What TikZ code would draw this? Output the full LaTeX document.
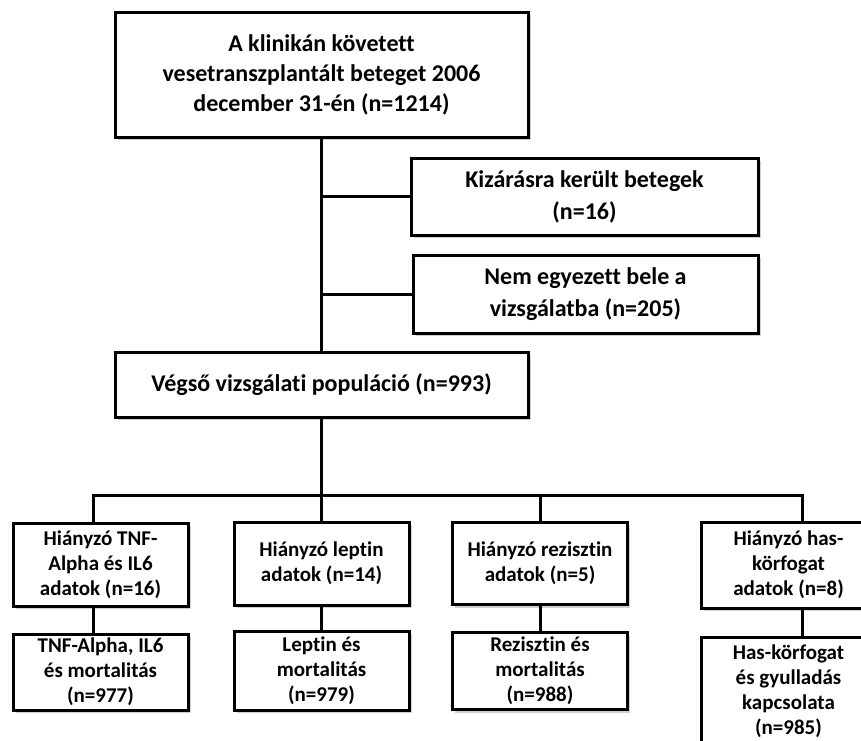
\documentclass[tikz,border=0pt]{standalone}
\usepackage{fontspec}
\setmainfont{Carlito}[Ligatures=NoCommon]
\usetikzlibrary{shadows}

\begin{document}
\begin{tikzpicture}[x=1pt, y=-1pt, node distance=100pt,
  box/.style={draw=black, line width=3pt, fill=white, inner sep=0pt, align=center,
    drop shadow={shadow xshift=2.5pt, shadow yshift=-3pt, opacity=0.3, fill=black!60}},
  big box/.style={box, font=\bfseries\fontsize{24}{30}\selectfont},
  small box/.style={box, minimum width=175pt, font=\bfseries\fontsize{21}{25}\selectfont},
  link/.style={line width=3pt}]
	\useasboundingbox (0,0) rectangle (861,740);
	\clip (0,0) rectangle (861,740);

	\node[big box, minimum width=413pt, minimum height=125pt] (start) at (321.5,74.5) {A klinikán követett\\vesetranszplantált beteget 2006\\december 31-én (n=1214)};
	\node[big box, minimum width=347pt, minimum height=77pt, font=\bfseries\fontsize{24}{32}\selectfont] (excl) [right of=start, node distance=263pt, yshift=-122pt] {Kizárásra került betegek\\(n=16)};
	\node[big box, minimum width=345pt, minimum height=78pt, font=\bfseries\fontsize{24}{32}\selectfont] (refused) [below of=excl, node distance=97.5pt, xshift=1pt] {Nem egyezett bele a\\vizsgálatba (n=205)};
	\node[big box, minimum width=413pt, minimum height=65pt] (final) [below of=start, node distance=310pt] {Végső vizsgálati populáció (n=993)};

	\node[small box, minimum height=83pt] (misslep) [below of=final, node distance=179pt] {Hiányzó leptin\\adatok (n=14)};
	\node[small box, minimum height=83pt] (misstnf) [left of=misslep, node distance=221pt, yshift=-1pt] {Hiányzó TNF-\\Alpha és IL6\\adatok (n=16)};
	\node[small box, minimum height=82pt] (missrez) [right of=misslep, node distance=218.5pt] {Hiányzó rezisztin\\adatok (n=5)};
	\node[small box, minimum height=86pt] (misswc) [right of=missrez, node distance=248.5pt, yshift=-1.5pt] {Hiányzó has-\\körfogat\\adatok (n=8)};

	\node[small box, minimum height=76pt] (restnf) [below of=misstnf, node distance=107.5pt] {TNF-Alpha, IL6\\és mortalitás\\(n=977)};
	\node[small box, minimum height=79pt] (reslep) [below of=misslep, node distance=107pt] {Leptin és\\mortalitás\\(n=979)};
	\node[small box, minimum height=77pt] (resrez) [below of=missrez, node distance=107.5pt] {Rezisztin és\\mortalitás\\(n=988)};
	\node[small box, minimum height=108pt] (reswc) [below of=misswc, node distance=126pt] {Has-körfogat\\és gyulladás\\kapcsolata\\(n=985)};

	\coordinate (bustnf) at (93,495);
	\coordinate (buslep) at (321.5,495);
	\coordinate (busrez) at (540,495);
	\coordinate (buswc) at (802,495);

	\draw[link] (start) -- (final);
	\draw[link] (start |- excl) -- (excl);
	\draw[link] (start |- refused) -- (refused);
	\draw[link] (final) -- (misslep);
	\draw[link] (bustnf |- misstnf.north) -- (bustnf) -- (buswc) -- (buswc |- misswc.north);
	\draw[link] (busrez) -- (missrez);
	\draw[link] (misstnf.south -| bustnf) -- (bustnf |- restnf.north);
	\draw[link] (misslep) -- (reslep);
	\draw[link] (missrez) -- (resrez);
	\draw[link] (misswc.south -| buswc) -- (buswc |- reswc.north);
\end{tikzpicture}
\end{document}
